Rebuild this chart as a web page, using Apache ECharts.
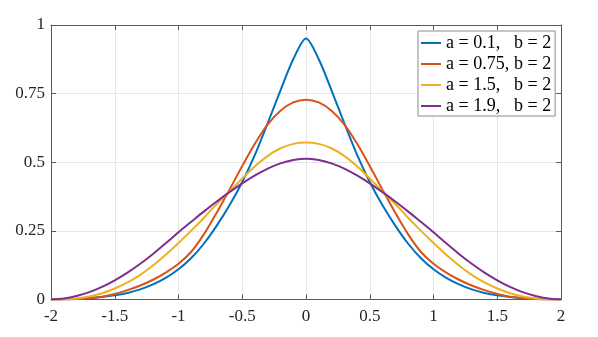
<!DOCTYPE html>
<html>
<head>
<meta charset="utf-8">
<script src="https://cdn.jsdelivr.net/npm/echarts@6/dist/echarts.min.js"></script>
<style>
  html, body { margin: 0; padding: 0; background: #fff; }
  #chart { width: 598px; height: 337px; }
</style>
</head>
<body>
<div id="chart"></div>
<script>
  // x positions (step 0.1)
  var xs = [-2.0, -1.9, -1.8, -1.7, -1.6, -1.5, -1.4, -1.3, -1.2, -1.1,
            -1.0, -0.9, -0.8, -0.7, -0.6, -0.5, -0.4, -0.3, -0.2, -0.1,
             0.0,
             0.1,  0.2,  0.3,  0.4,  0.5,  0.6,  0.7,  0.8,  0.9,  1.0,
             1.1,  1.2,  1.3,  1.4,  1.5,  1.6,  1.7,  1.8,  1.9,  2.0];

  // values
  var curveA01 = [0, 0.0005, 0.0025, 0.005, 0.009, 0.015, 0.024, 0.037, 0.055, 0.079,
                  0.110, 0.151, 0.204, 0.269, 0.343, 0.428, 0.528, 0.643, 0.762, 0.875,
                  0.951,
                  0.875, 0.762, 0.643, 0.528, 0.428, 0.343, 0.269, 0.204, 0.151, 0.110,
                  0.079, 0.055, 0.037, 0.024, 0.015, 0.009, 0.005, 0.0025, 0.0005, 0];
  var curveA075 = [0, 0.0003, 0.0015, 0.0045, 0.010, 0.020, 0.034, 0.051, 0.072, 0.098,
                   0.130, 0.174, 0.238, 0.316, 0.400, 0.486, 0.568, 0.638, 0.688, 0.718,
                   0.728,
                   0.718, 0.688, 0.638, 0.568, 0.486, 0.400, 0.316, 0.238, 0.174, 0.130,
                   0.098, 0.072, 0.051, 0.034, 0.020, 0.010, 0.0045, 0.0015, 0.0003, 0];
  var curveA15 = [0, 0.001, 0.004, 0.011, 0.023, 0.040, 0.062, 0.090, 0.124, 0.163,
                  0.206, 0.251, 0.298, 0.348, 0.394, 0.441, 0.485, 0.523, 0.551, 0.567,
                  0.572,
                  0.567, 0.551, 0.523, 0.485, 0.441, 0.394, 0.348, 0.298, 0.251, 0.206,
                  0.163, 0.124, 0.090, 0.062, 0.040, 0.023, 0.011, 0.004, 0.001, 0];
  var curveA19 = [0, 0.004, 0.013, 0.027, 0.046, 0.070, 0.098, 0.130, 0.166, 0.205,
                  0.245, 0.283, 0.321, 0.357, 0.391, 0.423, 0.452, 0.477, 0.496, 0.508,
                  0.513,
                  0.508, 0.496, 0.477, 0.452, 0.423, 0.391, 0.357, 0.321, 0.283, 0.245,
                  0.205, 0.166, 0.130, 0.098, 0.070, 0.046, 0.027, 0.013, 0.004, 0];

  var aLabels = ['0.1', '0.75', '1.5', '1.9'];
  var bLabel = '2';
  var colors = ['#0072BD', '#D95319', '#EDB120', '#7E2F8E'];
  var curves = [curveA01, curveA075, curveA15, curveA19];

  var serif = '"Liberation Serif", "DejaVu Serif", serif';
  var axisColor = '#5a5a5a';

  function pairs(ys) {
    var out = [];
    for (var i = 0; i < xs.length; i++) {
      out.push([xs[i], ys[i]]);
    }
    return out;
  }

  var series = [];
  var names = [];
  for (var k = 0; k < curves.length; k++) {
    var nm = 'a = ' + aLabels[k] + ', b = ' + bLabel;
    names.push(nm);
    series.push({
      name: nm,
      type: 'line',
      data: pairs(curves[k]),
      symbol: 'none',
      smooth: 0.3,
      color: colors[k],
      lineStyle: { width: 2, color: colors[k] },
      xAxisIndex: 0,
      yAxisIndex: 0
    });
  }

  var chart = echarts.init(document.getElementById('chart'));

  var option = {
    animation: false,
    backgroundColor: '#fff',
    grid: { left: 51, right: 37, top: 25, bottom: 37.5, containLabel: false },
    legend: {
      orient: 'vertical',
      left: 418,
      top: 31,
      data: names,
      icon: 'rect',
      itemWidth: 20,
      itemHeight: 2,
      itemGap: 3,
      padding: [3, 4, 1, 3],
      borderColor: '#8c8c8c',
      borderWidth: 1,
      backgroundColor: '#fff',
      formatter: function (name) {
        var parts = name.split(', ');
        return '{p|' + parts[0] + ',}{q|' + parts[1] + '}';
      },
      textStyle: {
        fontFamily: serif,
        fontSize: 18,
        color: '#000',
        lineHeight: 18,
        rich: {
          p: { fontFamily: serif, fontSize: 18, color: '#000', width: 68 },
          q: { fontFamily: serif, fontSize: 18, color: '#000' }
        }
      }
    },
    xAxis: [{
      type: 'value',
      min: -2,
      max: 2,
      interval: 0.5,
      position: 'bottom',
      axisLine: { show: true, onZero: false, lineStyle: { color: axisColor, width: 1 } },
      axisTick: { show: true, inside: true, length: 5, lineStyle: { color: axisColor } },
      splitLine: { show: true, lineStyle: { color: '#e6e6e6', width: 1 } },
      axisLabel: { fontFamily: 'Liberation Serif', fontSize: 17, color: '#262626', margin: 9 }
    }, {
      type: 'value',
      min: -2,
      max: 2,
      interval: 0.5,
      position: 'top',
      axisLine: { show: true, onZero: false, lineStyle: { color: axisColor, width: 1 } },
      axisTick: { show: true, inside: true, length: 5, lineStyle: { color: axisColor } },
      splitLine: { show: false },
      axisLabel: { show: false }
    }],
    yAxis: [{
      type: 'value',
      min: 0,
      max: 1,
      interval: 0.25,
      position: 'left',
      axisLine: { show: true, onZero: false, lineStyle: { color: axisColor, width: 1 } },
      axisTick: { show: true, inside: true, length: 5, lineStyle: { color: axisColor } },
      splitLine: { show: true, lineStyle: { color: '#e6e6e6', width: 1 } },
      axisLabel: { fontFamily: 'Liberation Serif', fontSize: 17, color: '#262626', margin: 6 }
    }, {
      type: 'value',
      min: 0,
      max: 1,
      interval: 0.25,
      position: 'right',
      axisLine: { show: true, onZero: false, lineStyle: { color: axisColor, width: 1 } },
      axisTick: { show: true, inside: true, length: 5, lineStyle: { color: axisColor } },
      splitLine: { show: false },
      axisLabel: { show: false }
    }],
    series: series
  };

  chart.setOption(option);
</script>
</body>
</html>
